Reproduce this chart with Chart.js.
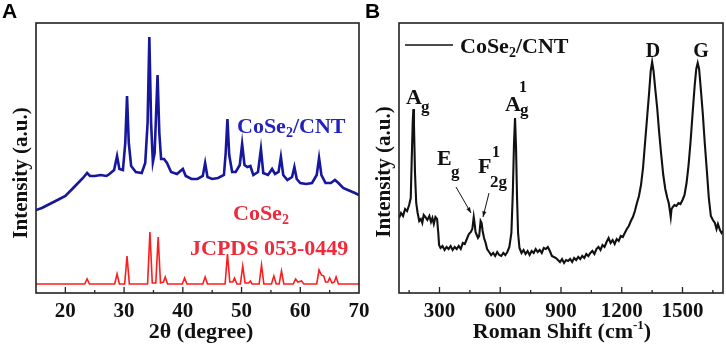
<!DOCTYPE html>
<html lang="en">
<head>
    <meta charset="UTF-8">
    <title>CoSe2/CNT XRD and Raman</title>
    <script src="https://cdn.jsdelivr.net/npm/chart.js"></script>
    <style>
        body { margin: 0; background: #fff; }
        #panelA { position: absolute; left: 0; top: 0; }
        #panelB { position: absolute; left: 363px; top: 0; }
    </style>
</head>
<body>
<canvas id="panelA" width="380" height="347"></canvas>
<canvas id="panelB" width="363" height="347"></canvas>

<script>
    // ---- panel A: XRD ----
    const xrdAngle = [15.0, 16.0, 17.0, 18.0, 19.0, 20.0, 21.0, 22.0, 23.0, 23.7, 24.2, 25.0, 26.0, 27.0, 27.5,
        28.3, 28.8, 29.2, 29.8, 30.2, 30.5, 30.8, 31.2, 32.0, 33.0, 33.6, 34.0, 34.3, 34.6, 34.9, 35.2, 35.7,
        36.0, 36.3, 36.8, 37.3, 38.0, 39.0, 40.0, 40.5, 41.5, 42.5, 43.4, 43.8, 44.2, 45.0, 46.0, 47.0, 47.3,
        47.6, 47.9, 48.4, 49.0, 49.7, 50.1, 50.5, 51.0, 51.5, 52.0, 52.8, 53.3, 53.7, 54.5, 55.2, 55.7, 56.3,
        56.7, 57.1, 57.8, 58.6, 59.0, 59.4, 60.0, 61.0, 62.0, 62.8, 63.2, 63.6, 64.3, 65.2, 65.9, 66.5, 67.3,
        68.5, 69.3, 70.0];
    const xrdComposite = [83, 85, 88, 91, 94, 97, 103, 109, 115, 120, 117, 117, 118, 117, 119,
        123, 137, 124, 123, 150, 197, 150, 127, 121, 120, 130, 170, 256, 170, 131, 140, 218,
        160, 134, 134, 130, 121, 119, 124, 117, 114, 114, 117, 130, 116, 114, 115, 118, 140,
        174, 138, 121, 121, 128, 149, 128, 126, 127, 118, 121, 144, 120, 118, 124, 119, 121,
        136, 118, 113, 116, 126, 114, 110, 109, 110, 118, 135, 118, 110, 110, 113, 110, 105,
        102, 100, 98];

    const refAngle = [15.0, 23.3, 23.7, 24.1, 28.4, 28.8, 29.2, 30.1, 30.5, 30.9, 34.0, 34.4, 34.8, 35.4, 35.8,
        36.2, 36.7, 37.0, 37.4, 39.9, 40.3, 40.7, 43.4, 43.8, 44.2, 47.2, 47.6, 48.0, 48.5, 48.8, 49.2, 49.8,
        50.2, 50.6, 51.2, 51.5, 51.8, 53.0, 53.4, 53.8, 55.1, 55.5, 55.9, 56.4, 56.8, 57.2, 58.8, 59.2, 59.6,
        60.2, 60.6, 62.8, 63.2, 63.6, 64.0, 64.3, 64.7, 65.0, 65.4, 65.8, 66.1, 66.5, 70.0];
    const refIntensity = [9, 9, 14, 9, 9, 19, 9, 9, 37, 9, 9, 61, 10, 10, 56,
        10, 11, 16, 9, 9, 15, 9, 9, 16, 9, 9, 39, 11, 11, 15, 9, 9,
        27, 10, 10, 12, 9, 9, 28, 9, 9, 17, 9, 9, 22, 9, 9, 14, 11,
        12, 9, 9, 23, 18, 17, 11, 11, 15, 10, 11, 16, 9, 9];

    const xrdTicks = [20, 25, 30, 35, 40, 45, 50, 55, 60, 65];

    // ---- panel B: Raman ----
    const ramanShift = [100, 110, 120, 130, 140, 150, 158, 163, 168, 171, 174, 179, 185, 192, 200, 208, 215, 222,
        230, 240, 250, 258, 265, 272, 280, 288, 294, 298, 305, 315, 325, 335, 345, 355, 365, 375, 385, 395, 405,
        415, 425, 435, 445, 455, 462, 469, 473, 478, 484, 490, 496, 503, 508, 513, 520, 528, 535, 545, 555, 565,
        575, 585, 595, 605, 615, 625, 635, 645, 655, 662, 668, 673, 678, 683, 688, 695, 705, 715, 725, 735, 745,
        755, 765, 775, 785, 795, 805, 815, 825, 835, 845, 855, 865, 875, 885, 895, 905, 915, 925, 935, 945, 955,
        965, 975, 985, 995, 1005, 1015, 1025, 1035, 1045, 1055, 1065, 1075, 1085, 1095, 1105, 1115, 1125, 1135,
        1145, 1155, 1165, 1175, 1185, 1195, 1205, 1215, 1225, 1235, 1245, 1255, 1265, 1275, 1285, 1295, 1305,
        1315, 1325, 1335, 1343, 1350, 1357, 1365, 1375, 1385, 1395, 1405, 1415, 1425, 1432, 1438, 1442, 1446,
        1452, 1460, 1470, 1480, 1490, 1500, 1510, 1520, 1530, 1540, 1550, 1560, 1568, 1575, 1582, 1590, 1600,
        1610, 1620, 1630, 1640, 1650, 1660, 1668, 1675, 1685, 1693, 1700];
    const ramanIntensity = [75, 80, 77, 84, 82, 88, 95, 135, 172, 184, 168, 120, 90, 80, 72, 74, 70, 78,
        76, 73, 77, 71, 75, 69, 76, 74, 60, 48, 45, 47, 43, 46, 44, 47, 43, 46, 44, 47, 44,
        50, 49, 54, 59, 61, 64, 76, 70, 61, 58, 55, 57, 72, 70, 62, 55, 50, 44, 41, 38, 40,
        37, 41, 38, 37, 40, 38, 41, 46, 60, 100, 150, 175, 145, 95, 60, 45, 40, 43, 39, 42, 38,
        42, 40, 44, 41, 43, 40, 45, 44, 46, 42, 37, 36, 35, 33, 31, 34, 30, 33, 32, 34, 31,
        35, 33, 36, 34, 37, 35, 39, 37, 40, 42, 39, 44, 46, 43, 48, 46, 51, 55,
        50, 53, 49, 54, 52, 57, 56, 60, 64, 67, 72, 76, 82, 90, 97, 108, 125,
        150, 175, 200, 222, 231, 222, 205, 185, 160, 138, 118, 104, 95, 90, 82, 76, 84,
        86, 88, 87, 90, 89, 93, 98, 110, 128, 152, 180, 207, 224, 230, 224, 205, 180,
        150, 123, 95, 77, 73, 70, 64, 69, 63, 60, 62];

    const ramanTicks = [150, 300, 450, 600, 750, 900, 1050, 1200, 1350, 1500, 1650];

    const SERIF = '"Liberation Serif", "Times New Roman", serif';
    const INK = '#111111';
    const BLUE = '#16169f';
    const RED = '#ff1c1c';

    function text(ctx, str, x, y, size, color, align) {
        ctx.font = 'bold ' + size + 'px ' + SERIF;
        ctx.fillStyle = color;
        ctx.textAlign = align || 'left';
        ctx.textBaseline = 'alphabetic';
        ctx.fillText(str, x, y);
        return ctx.measureText(str).width;
    }

    // draws [string, size, raise] pieces one after another, returns width
    function runs(ctx, pieces, x, y, color, measureOnly) {
        let cx = x;
        pieces.forEach(p => {
            ctx.font = 'bold ' + p[1] + 'px ' + SERIF;
            if (!measureOnly) {
                ctx.fillStyle = color;
                ctx.textAlign = 'left';
                ctx.textBaseline = 'alphabetic';
                ctx.fillText(p[0], cx, y - (p[2] || 0));
            }
            cx += ctx.measureText(p[0]).width;
        });
        return cx - x;
    }

    function centeredRuns(ctx, pieces, cx, y, color) {
        const w = runs(ctx, pieces, 0, 0, color, true);
        runs(ctx, pieces, cx - w / 2, y, color);
    }

    function frame(chart, ticks, isMajor) {
        const {ctx, chartArea: a} = chart;
        const x = chart.scales.x;
        ctx.save();
        ctx.strokeStyle = '#222';
        ctx.lineWidth = 1.3;
        ticks.forEach(v => {
            const px = x.getPixelForValue(v);
            ctx.beginPath();
            ctx.moveTo(px, a.bottom);
            ctx.lineTo(px, a.bottom - (isMajor(v) ? 6 : 3));
            ctx.stroke();
        });
        ctx.lineWidth = 1.6;
        ctx.strokeRect(a.left, a.top, a.right - a.left, a.bottom - a.top);
        ctx.restore();
    }

    function yTitle(ctx, cx, cy) {
        ctx.save();
        ctx.translate(cx, cy);
        ctx.rotate(-Math.PI / 2);
        ctx.font = 'bold 21px ' + SERIF;
        ctx.fillStyle = INK;
        ctx.textAlign = 'center';
        ctx.textBaseline = 'middle';
        ctx.fillText('Intensity (a.u.)', 0, 0);
        ctx.restore();
    }

    const decorA = {
        id: 'decorA',
        afterDraw(chart) {
            const ctx = chart.ctx;
            frame(chart, xrdTicks, v => v % 10 === 0);
            ctx.save();
            ctx.font = 'bold 21px "Liberation Sans", Arial, sans-serif';
            ctx.fillStyle = '#000';
            ctx.textBaseline = 'alphabetic';
            ctx.fillText('A', 2, 18);
            yTitle(ctx, 22, 173);
            runs(ctx, [['CoSe', 22], ['2', 14, -4], ['/CNT', 22]], 237, 133, '#2222c0');
            runs(ctx, [['CoSe', 22], ['2', 14, -4]], 233, 220, '#f02a3a');
            text(ctx, 'JCPDS 053-0449', 190, 255, 22, '#f02a3a');
            centeredRuns(ctx, [['2θ (degree)', 22]], 201, 338, INK);
            ctx.restore();
        }
    };

    const decorB = {
        id: 'decorB',
        afterDraw(chart) {
            const ctx = chart.ctx;
            const o = -363;
            frame(chart, ramanTicks, v => v % 300 === 0);
            ctx.save();
            ctx.font = 'bold 21px "Liberation Sans", Arial, sans-serif';
            ctx.fillStyle = '#000';
            ctx.textBaseline = 'alphabetic';
            ctx.fillText('B', 365 + o, 18);
            yTitle(ctx, 385 + o, 172);

            // legend
            ctx.strokeStyle = INK;
            ctx.lineWidth = 1.5;
            ctx.beginPath();
            ctx.moveTo(405 + o, 45);
            ctx.lineTo(453 + o, 45);
            ctx.stroke();
            runs(ctx, [['CoSe', 22], ['2', 14, -4], ['/CNT', 22]], 460 + o, 53, INK);

            // peak labels
            text(ctx, 'A', 406 + o, 104, 22, INK);
            text(ctx, 'g', 421 + o, 112, 17, INK);
            text(ctx, 'A', 505 + o, 111, 22, INK);
            text(ctx, '1', 519 + o, 92, 16, INK);
            text(ctx, 'g', 520 + o, 115, 17, INK);
            text(ctx, 'E', 437 + o, 165, 22, INK);
            text(ctx, 'g', 451 + o, 177, 17, INK);
            text(ctx, 'F', 478 + o, 173, 22, INK);
            text(ctx, '1', 492 + o, 157, 16, INK);
            text(ctx, '2g', 490 + o, 187, 17, INK);
            text(ctx, 'D', 653 + o, 57, 20, INK, 'center');
            text(ctx, 'G', 701 + o, 57, 20, INK, 'center');

            // arrows
            [[456, 187, 471, 213], [489, 193, 483, 217]].forEach(a => {
                const [x1, y1, x2, y2] = a;
                ctx.beginPath();
                ctx.moveTo(x1 + o, y1);
                ctx.lineTo(x2 + o, y2);
                ctx.lineWidth = 1;
                ctx.stroke();
                const ang = Math.atan2(y2 - y1, x2 - x1);
                ctx.beginPath();
                ctx.moveTo(x2 + o, y2);
                ctx.lineTo(x2 + o - 6 * Math.cos(ang - 0.35), y2 - 6 * Math.sin(ang - 0.35));
                ctx.lineTo(x2 + o - 6 * Math.cos(ang + 0.35), y2 - 6 * Math.sin(ang + 0.35));
                ctx.closePath();
                ctx.fillStyle = INK;
                ctx.fill();
            });

            centeredRuns(ctx, [['Roman Shift (cm', 22], ['-1', 13, 9], [')', 22]], 562 + o, 338, INK);
            ctx.restore();
        }
    };

    function xAxis(min, max, ticks, labelled) {
        return {
            type: 'linear',
            min: min,
            max: max,
            afterBuildTicks: s => { s.ticks = ticks.map(v => ({value: v})); },
            afterFit: s => { s.height = 54; },
            grid: {display: false},
            border: {display: false},
            ticks: {
                autoSkip: false,
                maxRotation: 0,
                padding: -2,
                color: INK,
                font: {family: SERIF, size: 21, weight: 'bold'},
                callback: v => labelled(v) ? String(v) : ''
            }
        };
    }

    function lineSet(xs, ys, color, width) {
        return {
            data: xs.map((x, i) => ({x: x, y: ys[i]})),
            borderColor: color,
            borderWidth: width,
            pointRadius: 0,
            tension: 0,
            fill: false
        };
    }

    function init() {
        Chart.defaults.font.family = SERIF;

        new Chart(document.getElementById('panelA'), {
            type: 'line',
            data: {
                datasets: [
                    lineSet(xrdAngle, xrdComposite, BLUE, 2.6),
                    lineSet(refAngle, refIntensity, RED, 1.6)
                ]
            },
            options: {
                responsive: false,
                animation: false,
                layout: {padding: {left: 36, top: 23, right: 21, bottom: 0}},
                plugins: {legend: {display: false}, tooltip: {enabled: false}},
                scales: {
                    x: xAxis(15, 70, [15].concat(xrdTicks, [70]), v => v % 10 === 0),
                    y: {display: false, min: 0, max: 270}
                }
            },
            plugins: [decorA]
        });

        new Chart(document.getElementById('panelB'), {
            type: 'line',
            data: {
                datasets: [lineSet(ramanShift, ramanIntensity, INK, 2.1)]
            },
            options: {
                responsive: false,
                animation: false,
                layout: {padding: {left: 36, top: 23, right: 3, bottom: 0}},
                plugins: {legend: {display: false}, tooltip: {enabled: false}},
                scales: {
                    x: xAxis(100, 1700, ramanTicks, v => v % 300 === 0),
                    y: {display: false, min: 0, max: 270}
                }
            },
            plugins: [decorB]
        });
    }

    document.addEventListener('DOMContentLoaded', init);
</script>
</body>
</html>
